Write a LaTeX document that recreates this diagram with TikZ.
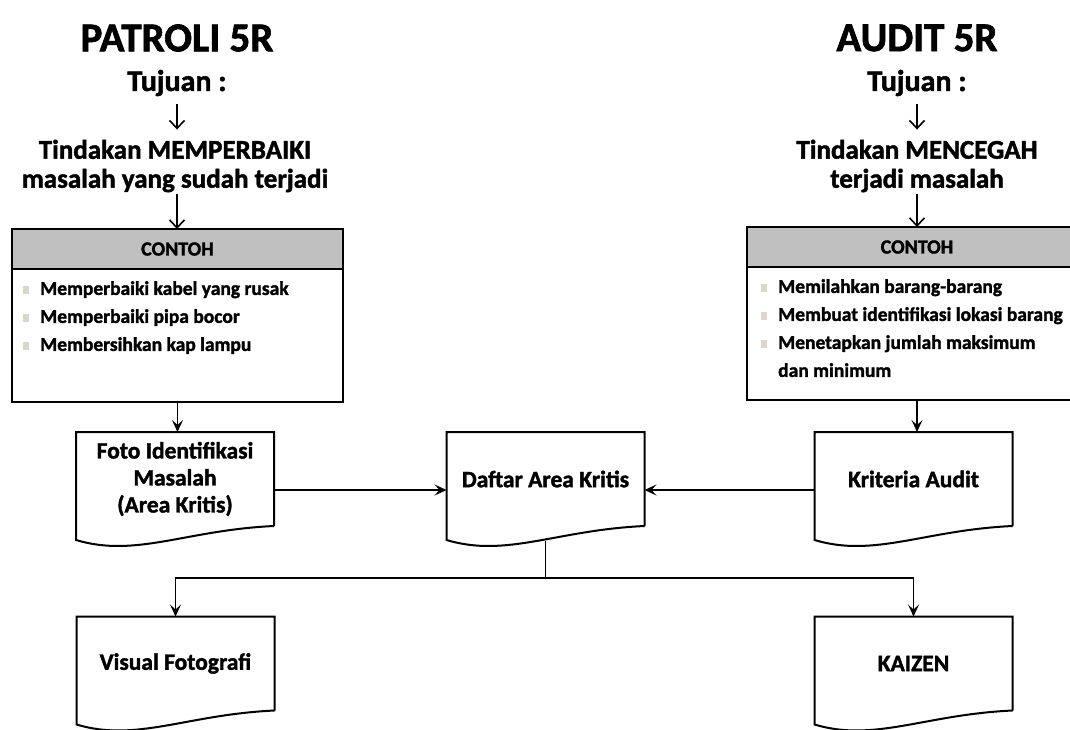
\documentclass[tikz,border=0pt]{standalone}
\usepackage{fontspec}
\setmainfont{Carlito}[BoldFeatures={FakeBold=1.6}]
\usepackage{tikz}
\usetikzlibrary{arrows.meta,positioning}

\definecolor{headgray}{RGB}{192,192,192}
\definecolor{bulgray}{RGB}{220,214,204}

\newcommand{\sqb}{\makebox[17pt][l]{\textcolor{bulgray}{\rule[1pt]{6pt}{8pt}}}}
\newcommand{\sqi}{\hspace*{17pt}}

\tikzset{
  ttl/.style={inner sep=2pt, font=\bfseries\fontsize{41}{44}\selectfont},
  sub/.style={inner sep=2pt, font=\bfseries\fontsize{30}{32}\selectfont},
  act/.style={inner sep=2pt, align=center, font=\bfseries\fontsize{27}{29}\selectfont},
  conhead/.style={draw, line width=1.4pt, outer sep=0pt, fill=headgray, minimum height=40pt,
    font=\bfseries\fontsize{20}{22}\selectfont},
  conbody/.style={draw, line width=1.4pt, outer sep=0pt, minimum height=133pt},
  itemlist/.style={anchor=north west, align=left, inner sep=0pt,
    font=\bfseries\fontsize{19.5}{28}\selectfont},
  doc/.style={minimum width=198pt, minimum height=94pt, outer sep=0pt, align=center,
    font=\bfseries\fontsize{23.5}{27}\selectfont,
    append after command={\pgfextra{
      \draw[line width=2pt] (\tikzlastnode.south east) -- (\tikzlastnode.north east)
        -- (\tikzlastnode.north west) -- ([yshift=-14pt]\tikzlastnode.south west)
        .. controls ([xshift=60pt,yshift=-32pt]\tikzlastnode.south west)
        and ([xshift=110pt,yshift=-4pt]\tikzlastnode.south west) .. (\tikzlastnode.south east);}}},
  link/.style={line width=1.3pt, -{Stealth[length=12pt,width=11pt,inset=5pt]}},
  down/.style={line width=1.6pt, -{Straight Barb[length=8pt,width=15pt]}},
}

\begin{document}
\begin{tikzpicture}[x=1pt,y=-1pt]
  \useasboundingbox (0,0) rectangle (1070,729);
  \clip (0,0) rectangle (1070,729);

  % patroli side
  \node[ttl] (pat) at (177,38) {PATROLI 5R};
  \node[sub] (tujl) at (177,83) {Tujuan :};
  \node[act] (tinl) at (175,166) {Tindakan MEMPERBAIKI\\masalah yang sudah terjadi};
  \node[conhead, minimum width=331pt] (hdl) at (177.5,249) {CONTOH};
  \node[conbody, minimum width=331pt, below=0pt of hdl] (bdl) {};
  \node[itemlist] (lsl) at ([xshift=11pt,yshift=-12pt]bdl.north west)
    {\sqb Memperbaiki kabel yang rusak\\\sqb Memperbaiki pipa bocor\\\sqb Membersihkan kap lampu};

  % audit side
  \node[ttl] (aud) at (917,38) {AUDIT 5R};
  \node[sub] (tujr) at (917,83) {Tujuan :};
  \node[act] (tinr) at (917,166) {Tindakan MENCEGAH\\terjadi masalah};
  \node[conhead, minimum width=340pt] (hdr) at (917,247) {CONTOH};
  \node[conbody, minimum width=340pt, below=0pt of hdr] (bdr) {};
  \node[itemlist] (lsr) at ([xshift=14pt,yshift=-12pt]bdr.north west)
    {\sqb Memilahkan barang-barang\\\sqb Membuat identifikasi lokasi barang\\
     \sqb Menetapkan jumlah maksimum\\\sqi dan minimum};

  % documents
  \node[doc] (foto) at (175,479) {Foto Identifikasi\\Masalah\\(Area Kritis)};
  \node[doc] (daftar) at (545.5,479) {Daftar Area Kritis};
  \node[doc] (krit) at (913.5,479) {Kriteria Audit};
  \node[doc] (vis) at (175.5,663.5) {Visual Fotografi};
  \node[doc] (kai) at (913.5,663.5) {KAIZEN};
  \coordinate (split) at (545.5,578);

  % connectors
  \draw[down, shorten <=6pt, shorten >=8pt] (tujl) -- (tujl |- tinl.north);
  \draw[down] (tujl |- tinl.south) -- (tujl |- hdl.north);
  \draw[down, shorten <=6pt, shorten >=8pt] (tujr) -- (tinr);
  \draw[down] (tinr) -- (hdr);
  \draw[link] (bdl.south) -- (bdl.south |- foto.north);
  \draw[link] (bdr.south) -- (bdr.south |- krit.north);
  \draw[link] ([yshift=-11pt]foto.east) -- ([yshift=-11pt]foto.east -| daftar.west);
  \draw[link] ([yshift=-11pt]krit.west) -- ([yshift=-11pt]krit.west -| daftar.east);
  \draw[line width=1.3pt] ([yshift=-15pt]daftar.south) -- (split);
  \draw[link] (split) -| (vis.north);
  \draw[link] (split) -| (kai.north);
\end{tikzpicture}
\end{document}
